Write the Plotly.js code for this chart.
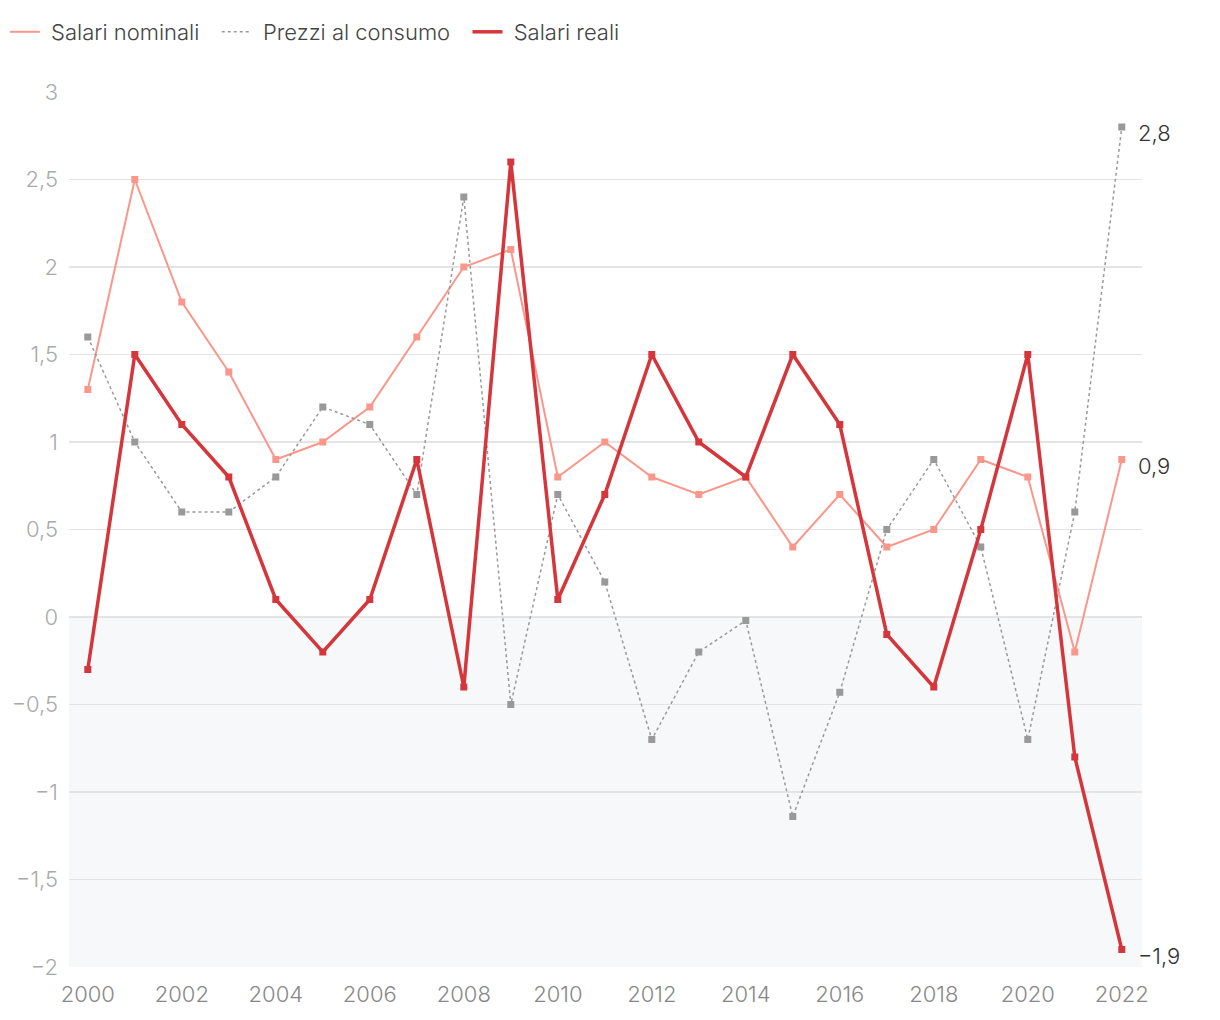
<!DOCTYPE html>
<html>
<head>
<meta charset="utf-8">
<script src="https://cdn.plot.ly/plotly-3.0.1.min.js"></script>
<style>html,body{margin:0;padding:0;background:#fff;}#chart{width:1220px;height:1020px;}</style>
</head>
<body>
<div id="chart"></div>
<script>
var years = [2000,2001,2002,2003,2004,2005,2006,2007,2008,2009,2010,2011,2012,2013,2014,2015,2016,2017,2018,2019,2020,2021,2022];
var salariNominali = [1.3,2.5,1.8,1.4,0.9,1.0,1.2,1.6,2.0,2.1,0.8,1.0,0.8,0.7,0.8,0.4,0.7,0.4,0.5,0.9,0.8,-0.2,0.9];
var prezziConsumo = [1.6,1.0,0.6,0.6,0.8,1.2,1.1,0.7,2.4,-0.5,0.7,0.2,-0.7,-0.2,-0.02,-1.14,-0.43,0.5,0.9,0.4,-0.7,0.6,2.8];
var salariReali = [-0.3,1.5,1.1,0.8,0.1,-0.2,0.1,0.9,-0.4,2.6,0.1,0.7,1.5,1.0,0.8,1.5,1.1,-0.1,-0.4,0.5,1.5,-0.8,-1.9];
var seriesNames = ["Salari nominali","Prezzi al consumo","Salari reali"];
var endLabels = ["0,9","2,8","\u22121,9"];
var xTicks = [2000,2002,2004,2006,2008,2010,2012,2014,2016,2018,2020,2022];
var yTicks = [-2,-1.5,-1,-0.5,0,0.5,1,1.5,2,2.5,3];

var colNom = "#fa978b", colPrz = "#999999", colReal = "#d5363b";
var font = "Inter, Roboto, 'Noto Sans', sans-serif";
var series = [salariNominali, prezziConsumo, salariReali];
var lineStyles = [
  {color: colNom, width: 2},
  {color: colPrz, width: 1.5, dash: "dot"},
  {color: colReal, width: 3.5}
];
var colors = [colNom, colPrz, colReal];

var traces = [];
series.forEach(function(s, i){
  traces.push({x: years, y: s, name: seriesNames[i], type: "scatter", mode: "lines+markers",
    line: lineStyles[i], marker: {symbol: "square", size: 7, color: colors[i]}, showlegend: false});
});
// legend-only entries (line only, no markers)
series.forEach(function(s, i){
  traces.push({x: [null], y: [null], name: "\u00a0" + seriesNames[i] + "\u00a0\u00a0", type: "scatter", mode: "lines",
    line: lineStyles[i], showlegend: true, hoverinfo: "skip"});
});

var last = years.length - 1;
var ends = [salariNominali[last], prezziConsumo[last], salariReali[last]];
var annotations = ends.map(function(v, i){
  return {x: years[last], y: v, xref: "x", yref: "y", text: endLabels[i], showarrow: false,
          xanchor: "left", yanchor: "middle", xshift: 14, yshift: -6,
          font: {family: font, size: 22, color: "#333333", weight: 300}};
});

var layout = {
  width: 1220, height: 1020,
  margin: {l: 69, r: 78, t: 92, b: 53},
  paper_bgcolor: "#ffffff", plot_bgcolor: "#ffffff",
  separators: ",.",
  font: {family: font, size: 22, color: "#444", weight: 300},
  showlegend: true,
  legend: {orientation: "h", xref: "container", yref: "container", x: 0.004, y: 1 - 32/1020,
           xanchor: "left", yanchor: "middle", font: {family: font, size: 22, color: "#444", weight: 300},
           itemwidth: 30, tracegroupgap: 0, bgcolor: "rgba(0,0,0,0)"},
  xaxis: {range: [1999.6, 2022.43], tickmode: "array", tickvals: xTicks,
          ticktext: xTicks.map(String),
          showgrid: false, zeroline: false, showline: false, ticks: "", ticklabelstandoff: 12,
          tickfont: {family: font, size: 22, color: "#888888", weight: 300}},
  yaxis: {range: [-2, 3], tickvals: yTicks,
          showgrid: true, gridcolor: "#e4e4e4", gridwidth: 1.5, zeroline: false, showline: false, ticks: "",
          ticklabelstandoff: 10, tickfont: {family: font, size: 22, color: "#aaaaaa", weight: 300}},
  shapes: [
    {type: "rect", xref: "paper", yref: "y", x0: 0, x1: 1, y0: -2, y1: 0, fillcolor: "#f7f8fa", line: {width: 0}, layer: "below"},
    {type: "line", xref: "paper", yref: "y", x0: 0, x1: 1, y0: 0, y1: 0, line: {color: "#333333", width: 2}, layer: "below"}
  ],
  annotations: annotations
};

Plotly.newPlot("chart", traces, layout, {displayModeBar: false, staticPlot: true});
</script>
</body>
</html>
